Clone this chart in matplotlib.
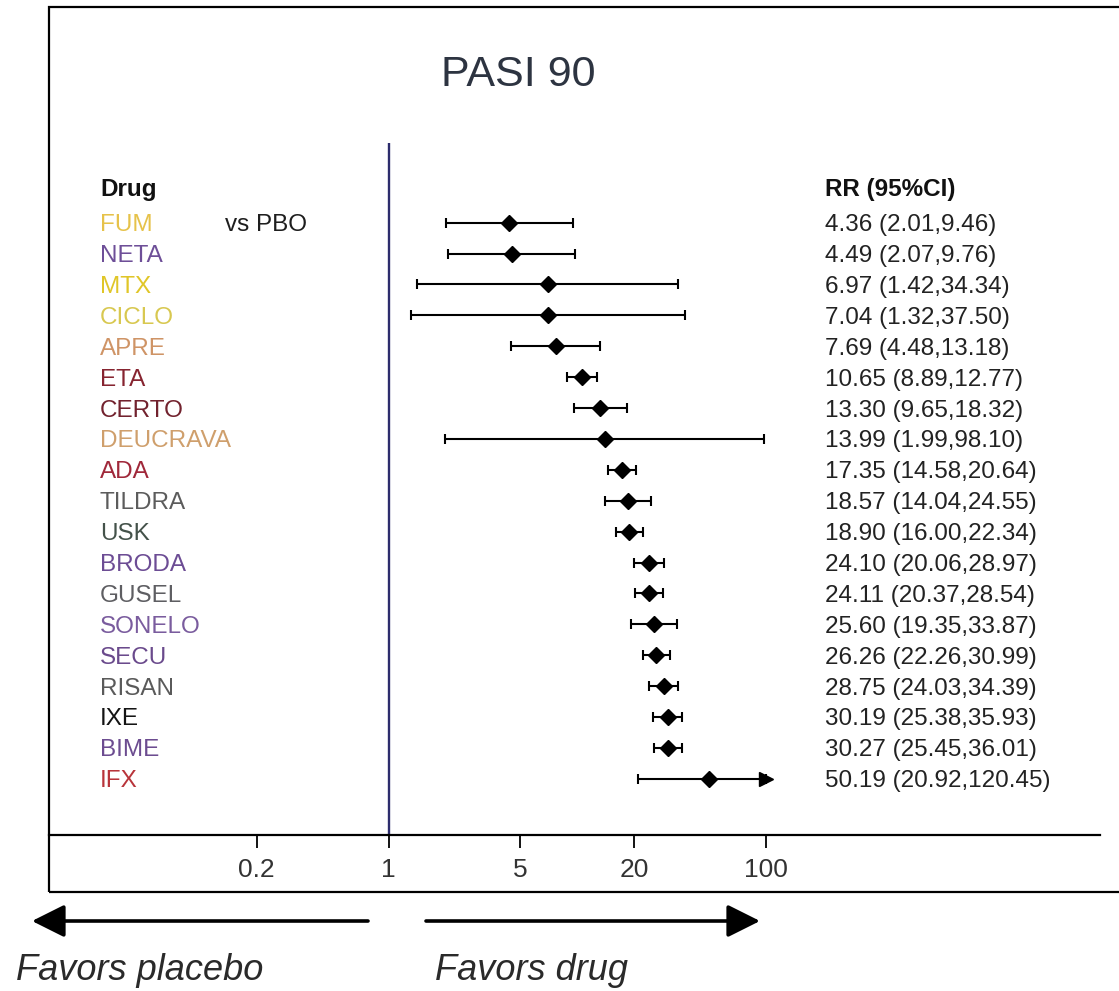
import matplotlib
matplotlib.use("Agg")
import numpy as np
import matplotlib.pyplot as plt
from matplotlib.patches import Rectangle, FancyArrowPatch
from matplotlib.transforms import blended_transform_factory

plt.rcParams["font.family"] = ["Liberation Sans", "DejaVu Sans"]

# PASI 90, each drug vs placebo
drugs = ["FUM", "NETA", "MTX", "CICLO", "APRE", "ETA", "CERTO", "DEUCRAVA",
         "ADA", "TILDRA", "USK", "BRODA", "GUSEL", "SONELO", "SECU", "RISAN",
         "IXE", "BIME", "IFX"]
rr = [4.36, 4.49, 6.97, 7.04, 7.69, 10.65, 13.30, 13.99, 17.35, 18.57, 18.90,
      24.10, 24.11, 25.60, 26.26, 28.75, 30.19, 30.27, 50.19]
lower = [2.01, 2.07, 1.42, 1.32, 4.48, 8.89, 9.65, 1.99, 14.58, 14.04, 16.00,
         20.06, 20.37, 19.35, 22.26, 24.03, 25.38, 25.45, 20.92]
upper = [9.46, 9.76, 34.34, 37.50, 13.18, 12.77, 18.32, 98.10, 20.64, 24.55,
         22.34, 28.97, 28.54, 33.87, 30.99, 34.39, 35.93, 36.01, 120.45]
name_colors = ["#e6c24a", "#6e4f98", "#e0c628", "#d8c850", "#cf9466",
               "#862430", "#72222e", "#cf9f6c", "#a0283a", "#5c5c5c",
               "#44524a", "#6c4c94", "#5e5e62", "#7a5c9e", "#6a4a8c",
               "#5a5a5a", "#141414", "#6c4c90", "#b8343a"]
tick_vals = [0.2, 1, 5, 20, 100]
tick_labels = ["0.2", "1", "5", "20", "100"]
plot_max = 100

W, H = 1119, 991
fig = plt.figure(figsize=(W / 100, H / 100), dpi=100)
ax = fig.add_axes([48.5 / W, (H - 835) / H, (1100 - 48.5) / W, (835 - 6.7) / H])

rr = np.array(rr)
lo = np.array(lower)
hi = np.array(upper)
hi_shown = np.minimum(hi, plot_max)
y = np.arange(len(drugs))

ax.errorbar(rr, y, xerr=[rr - lo, hi_shown - rr], fmt="D", color="black",
            ms=8, elinewidth=1.5, capsize=3.5, capthick=1.5, zorder=3)
clipped = hi > plot_max
ax.plot(hi_shown[clipped], y[clipped], ">", color="black", ms=10, zorder=4)

ax.set_xscale("log")
ax.set_xlim(10 ** -1.804, 10 ** 3.774)
ax.set_ylim(19.82, -6.99)
ax.vlines(1, -2.59, 19.82, color="#2c2c6c", lw=1.7, zorder=2)

ax.set_xticks(tick_vals)
ax.set_xticklabels(tick_labels)
ax.xaxis.set_minor_locator(matplotlib.ticker.NullLocator())
ax.tick_params(axis="x", length=9.5, width=1.3, pad=7, labelsize=19,
               labelcolor="#333333")
ax.set_yticks([])
for s in ["left", "right", "top"]:
    ax.spines[s].set_visible(False)
ax.spines["bottom"].set_linewidth(1.6)

tr = blended_transform_factory(ax.transAxes, ax.transData)
col_name = (100 - 48.5) / 1051.5
col_rr = (825 - 48.5) / 1051.5

ax.text(0.4465, -4.94, "PASI 90", transform=tr, ha="center",
        va="center_baseline", fontsize=31, color="#2d3441")
ax.text(col_name, -1.155, "Drug", transform=tr, ha="left",
        va="center_baseline", fontsize=17.5, fontweight="bold", color="#111111")
ax.text(col_rr, -1.155, "RR (95%CI)", transform=tr, ha="left",
        va="center_baseline", fontsize=17.5, fontweight="bold", color="#111111")
ax.text((225 - 48.5) / 1051.5, 0, "vs PBO", transform=tr, ha="left",
        va="center_baseline", fontsize=17.5, color="#1e1e1e")

for i, name in enumerate(drugs):
    ax.text(col_name, i, name, transform=tr, ha="left", va="center_baseline",
            fontsize=17.5, color=name_colors[i])
    ax.text(col_rr, i, f"{rr[i]:.2f} ({lo[i]:.2f},{hi[i]:.2f})", transform=tr,
            ha="left", va="center_baseline", fontsize=17.5, color="#222222")

# outer frame (right edge runs off the picture)
fig.add_artist(Rectangle((48.5 / W, (H - 891.7) / H), 1.2, (891.7 - 6.7) / H,
                         transform=fig.transFigure, fill=False, lw=1.6,
                         edgecolor="black", clip_on=False))

# direction arrows below the frame
arrow_kw = dict(arrowstyle="-|>,head_length=1.0,head_width=0.5", lw=2.6,
                color="black", mutation_scale=20, shrinkA=0, shrinkB=0)
fig.add_artist(FancyArrowPatch(
    (368 / W, (H - 921) / H), (32 / W, (H - 921) / H),
    transform=fig.transFigure, **arrow_kw))
fig.add_artist(FancyArrowPatch(
    (426 / W, (H - 921) / H), (760 / W, (H - 921) / H),
    transform=fig.transFigure, **arrow_kw))

fig.text(16 / W, (H - 970) / H, "Favors placebo", ha="left", va="center",
         fontsize=26, style="italic", color="#2a2a2a")
fig.text(435 / W, (H - 970) / H, "Favors drug", ha="left", va="center",
         fontsize=26, style="italic", color="#2a2a2a")

fig.savefig("out.png", dpi=100)
